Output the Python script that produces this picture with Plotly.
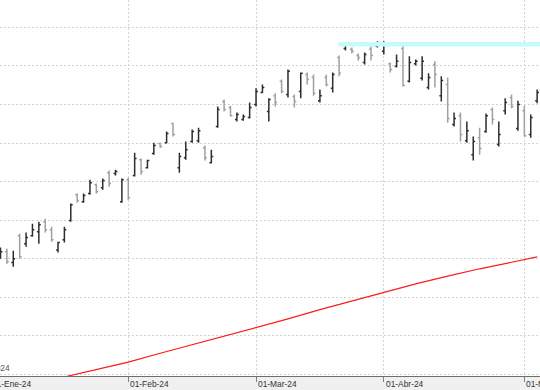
import pandas as pd
import plotly.graph_objects as go

# ---- data -------------------------------------------------------------
holidays = ["2024-01-15", "2024-02-19", "2024-03-29"]
sessions = [d for d in pd.bdate_range("2024-01-02", "2024-05-03") if d.strftime("%Y-%m-%d") not in holidays]
bar_dates = sessions[1:]                       # first visible bar = 03-Jan-2024
bar_idx = list(range(len(bar_dates)))          # trading-day index (no gaps)

open_ = [13.03, 13.18, 12.90, 13.60, 13.39, 13.60, 13.70, 13.96, 13.75, 13.23,
         13.49, 13.99, 14.66, 14.48, 14.69, 14.92, 14.84, 15.23, 15.21, 14.48,
         15.05, 15.16, 15.57, 15.36, 15.73, 15.99, 16.01, 16.51, 15.36, 15.62,
         16.04, 16.06, 15.88, 15.49, 16.43, 17.08, 16.92, 16.61, 16.61, 16.66,
         17.00, 17.31, 16.82, 17.23, 17.60, 17.26, 17.21, 17.34, 17.78, 17.70,
         17.10, 17.70, 17.42, 18.22, 18.45, 18.43, 18.27, 18.09, 18.43, 18.51,
         18.38, 18.06, 17.99, 18.45, 17.60, 18.06, 17.68, 17.44, 18.04, 17.23,
         17.52, 16.48, 16.71, 16.06, 15.70, 16.14, 16.30, 16.87, 15.96, 16.84,
         17.18, 16.38, 16.84, 16.22, 17.10]
high = [13.29, 13.26, 13.21, 13.65, 13.68, 13.91, 13.96, 14.04, 13.83, 13.44,
        13.83, 14.43, 14.69, 14.69, 15.05, 14.95, 15.08, 15.29, 15.31, 15.08,
        15.10, 15.75, 15.60, 15.57, 16.01, 16.01, 16.30, 16.53, 15.75, 16.04,
        16.35, 16.40, 15.94, 15.83, 16.95, 17.13, 16.97, 16.79, 16.74, 17.05,
        17.42, 17.52, 17.16, 17.29, 17.65, 17.91, 17.26, 17.83, 17.83, 17.78,
        17.39, 17.78, 17.83, 18.27, 18.61, 18.48, 18.32, 18.35, 18.51, 18.64,
        18.64, 18.09, 18.30, 18.58, 18.25, 18.17, 18.25, 17.81, 18.12, 17.73,
        17.70, 16.79, 16.79, 16.56, 16.17, 16.40, 16.77, 16.92, 16.56, 17.16,
        17.26, 17.10, 16.97, 16.74, 17.39]
low = [13.00, 12.87, 12.79, 13.00, 13.31, 13.57, 13.39, 13.68, 13.44, 13.16,
       13.42, 13.96, 14.45, 14.45, 14.66, 14.69, 14.79, 14.87, 15.16, 14.45,
       14.53, 15.13, 15.18, 15.34, 15.70, 15.88, 15.99, 16.17, 15.23, 15.57,
       16.01, 16.01, 15.55, 15.47, 16.40, 16.82, 16.69, 16.56, 16.58, 16.64,
       16.95, 17.29, 16.56, 16.95, 17.29, 17.18, 16.92, 17.16, 17.52, 17.23,
       17.05, 17.47, 17.31, 17.73, 18.40, 18.32, 18.14, 18.04, 18.14, 18.48,
       18.30, 17.83, 17.96, 17.47, 17.57, 18.01, 17.62, 17.39, 17.44, 17.08,
       16.53, 16.43, 16.04, 16.01, 15.55, 15.70, 16.27, 16.48, 15.91, 16.74,
       16.90, 16.32, 16.17, 16.14, 17.03]
close = [13.18, 12.92, 13.00, 13.05, 13.55, 13.75, 13.88, 13.75, 13.49, 13.42,
         13.75, 14.40, 14.51, 14.64, 14.97, 14.74, 15.03, 14.95, 15.26, 15.05,
         14.58, 15.60, 15.26, 15.55, 15.94, 15.91, 16.25, 16.22, 15.65, 15.83,
         16.30, 16.32, 15.62, 15.65, 16.87, 16.87, 16.71, 16.74, 16.69, 16.92,
         17.34, 17.44, 17.13, 17.05, 17.34, 17.86, 17.08, 17.81, 17.65, 17.29,
         17.23, 17.52, 17.78, 17.81, 18.58, 18.38, 18.22, 18.30, 18.27, 18.58,
         18.56, 17.91, 18.12, 17.49, 18.09, 18.12, 18.12, 17.70, 17.78, 17.62,
         16.64, 16.64, 16.22, 16.32, 16.04, 15.86, 16.71, 16.61, 16.22, 17.05,
         16.95, 17.00, 16.19, 16.66, 17.31]

# long moving average (read at selected sessions)
ma_idx = [0, 5, 10, 15, 20, 25, 30, 35, 40, 45, 50, 55, 60, 65, 70, 75, 80, 84]
ma_val = [9.55, 9.74, 9.94, 10.13, 10.32, 10.55, 10.77, 10.99, 11.21, 11.44,
          11.68, 11.91, 12.14, 12.35, 12.55, 12.74, 12.91, 13.05]

# resistance level (maximum zone)
resist_level = 18.56
resist_from = 52.9

tick_labels = ["01-Ene-24", "01-Feb-24", "01-Mar-24", "01-Abr-24", "01-May-24"]
month_first = [sessions[0]] + [d for p, d in zip(sessions, sessions[1:]) if d.month != p.month]
month_pos = [sessions.index(d) - 1 for d in month_first]
y_grid = list(range(10, 20))

# ---- figure -----------------------------------------------------------
DARK = "#2e2e2e"
GRAY = "#a0a0a0"
X0, X1 = -0.08, 84.45
Y0, Y1 = 9.96, 19.71
GRID = "#d4d4d4"

fig = go.Figure()
fig.add_trace(go.Scatter(x=[resist_from, len(bar_idx) + 1], y=[resist_level, resist_level],
                         mode="lines", line=dict(color="#c4fbfb", width=4.5), hoverinfo="skip"))
fig.add_trace(go.Scatter(x=ma_idx, y=ma_val, mode="lines",
                         line=dict(color="#ff1a1a", width=1.2), hoverinfo="skip"))
fig.add_trace(go.Ohlc(x=bar_idx, open=open_, high=high, low=low, close=close,
                      increasing=dict(line=dict(color=DARK, width=1.5)),
                      decreasing=dict(line=dict(color=GRAY, width=1.5)),
                      tickwidth=0.3, hoverinfo="skip"))

annotations = []
for k, (lab, pos) in enumerate(zip(tick_labels, month_pos)):
    annotations.append(dict(text=lab, x=(pos - X0) / (X1 - X0), xref="paper", y=0, yref="paper",
                            xanchor="left", yanchor="top", showarrow=False,
                            xshift=-4 if pos < X0 else 0, yshift=-1,
                            font=dict(family="Liberation Sans", size=8.4, color="#333333")))
annotations.append(dict(text="2024", x=12 / 540, xref="paper", y=0, yref="paper",
                        xanchor="right", yanchor="bottom", showarrow=False, yshift=1,
                        font=dict(family="Liberation Sans", size=8.4, color="#555555")))

fig.update_layout(
    width=540, height=390,
    margin=dict(l=0, r=0, t=0, b=14),
    paper_bgcolor="#f0f0f0", plot_bgcolor="white",
    showlegend=False,
    annotations=annotations,
    xaxis=dict(range=[X0, X1], tickmode="array", tickvals=month_pos, showticklabels=False,
               ticks="outside", ticklen=5, tickcolor="#808080", tickwidth=1,
               showgrid=True, gridcolor=GRID, griddash="2px,2px", gridwidth=1,
               showline=True, linecolor="#6e6e6e", linewidth=1, zeroline=False,
               rangeslider=dict(visible=False)),
    yaxis=dict(range=[Y0, Y1], tickmode="array", tickvals=y_grid, showticklabels=False,
               ticks="", showgrid=True, gridcolor=GRID, griddash="2px,2px", gridwidth=1,
               zeroline=False, showline=False),
)

fig.write_html("out.html", config={"displayModeBar": False},
               post_script="document.body.style.margin='0';document.body.style.overflow='hidden';")
